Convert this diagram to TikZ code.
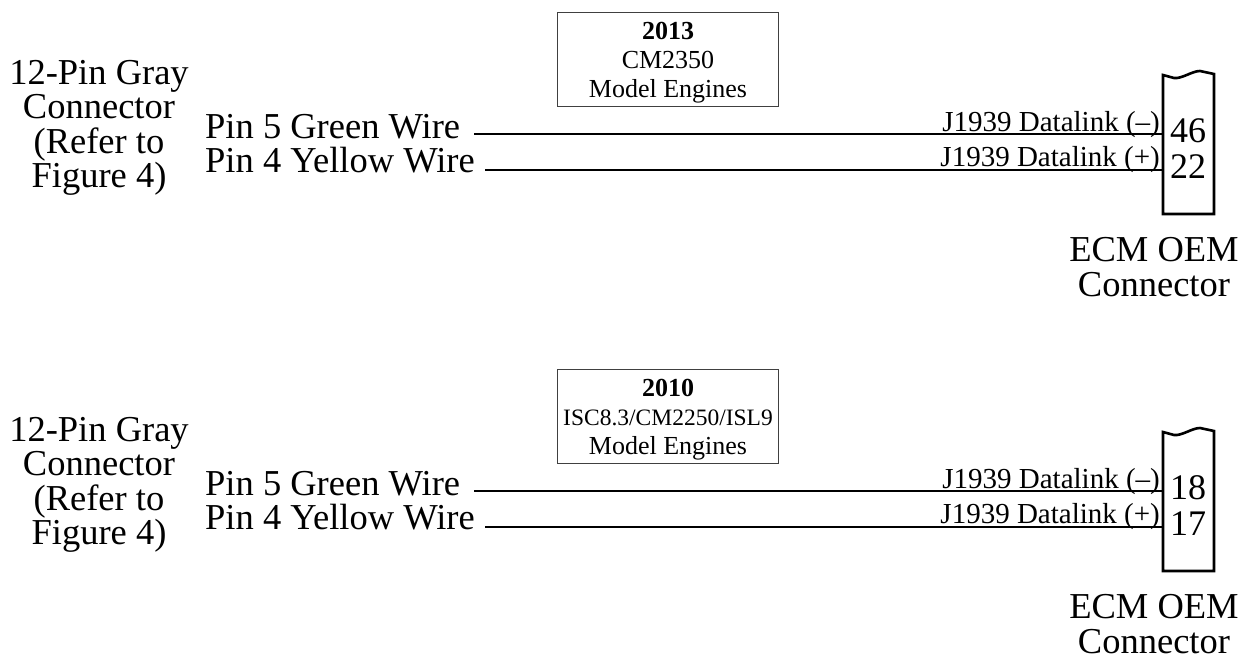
\documentclass[tikz,border=0pt]{standalone}
\usepackage{fontspec}
\setmainfont{Liberation Serif}
\newcommand{\bigtxt}{\fontsize{36.5}{34.5}\selectfont}
\newcommand{\pintxt}{\fontsize{36}{36}\selectfont}
\newcommand{\tagtxt}{\fontsize{29}{29}\selectfont}
\newcommand{\engtxt}{\fontsize{26}{29}\selectfont}
\begin{document}
\begin{tikzpicture}[x=1pt,y=-1pt,
  wire/.style={line width=2.6pt},
  lbl/.style={inner sep=0pt,font=\bigtxt},
  tag/.style={inner sep=0pt,font=\tagtxt,anchor=base east},
  engbox/.style={draw=black!75,line width=0.9pt,minimum width=221pt,minimum height=94pt,inner sep=0pt}]
\useasboundingbox (0,0) rectangle (1253,661);
\foreach \yo/\yr/\mdl/\pa/\pb in {0/2013/CM2350/46/22, 357/2010/{{\fontsize{23.5}{29}\selectfont ISC8.3/CM2250/ISL9}}/18/17} {
  % left side
  \node[lbl,align=center] (gray\yr) at (99,128+\yo) {12-Pin Gray\\Connector\\(Refer to\\Figure 4)};
  \node[lbl,anchor=base west] (green\yr) at (205,138+\yo) {Pin 5 Green Wire};
  \node[lbl,anchor=base west] (yellow\yr) at (205,172+\yo) {Pin 4 Yellow Wire};
  % engine box
  \node[engbox] (box\yr) at (668,59+\yo) {};
  \node[inner sep=0pt,align=center,font=\engtxt] (eng\yr) at ([yshift=-4pt]box\yr.center) {\textbf{\yr}\\\mdl\\Model Engines};
  % ECM connector
  \coordinate (ecm\yr) at (1163,75+\yo);
  \draw[wire] (ecm\yr) -- (1163,214+\yo) -- (1214,214+\yo) -- (1214,74+\yo) -- (1200,71+\yo)
    .. controls (1192,71+\yo) and (1182,79+\yo) .. (1174,78+\yo) -- cycle;
  \node[inner sep=0pt,font=\pintxt,anchor=base west] (pinA\yr) at (1170,142+\yo) {\pa};
  \node[inner sep=0pt,font=\pintxt,anchor=base west] (pinB\yr) at (1170,178+\yo) {\pb};
  \node[lbl,align=center] (ecmlbl\yr) at (1154,267+\yo) {ECM OEM\\Connector};
  % wires
  \draw[wire] (green\yr.base east) ++(14,-4) -- (ecm\yr |- 0,134+\yo);
  \draw[wire] (yellow\yr.base east) ++(10,-2) -- (ecm\yr |- 0,170+\yo);
  \node[tag] (dlA\yr) at (1160,131+\yo) {J1939 Datalink (\textendash)};
  \node[tag] (dlB\yr) at (1160,166+\yo) {J1939 Datalink (+)};
}
\end{tikzpicture}
\end{document}
